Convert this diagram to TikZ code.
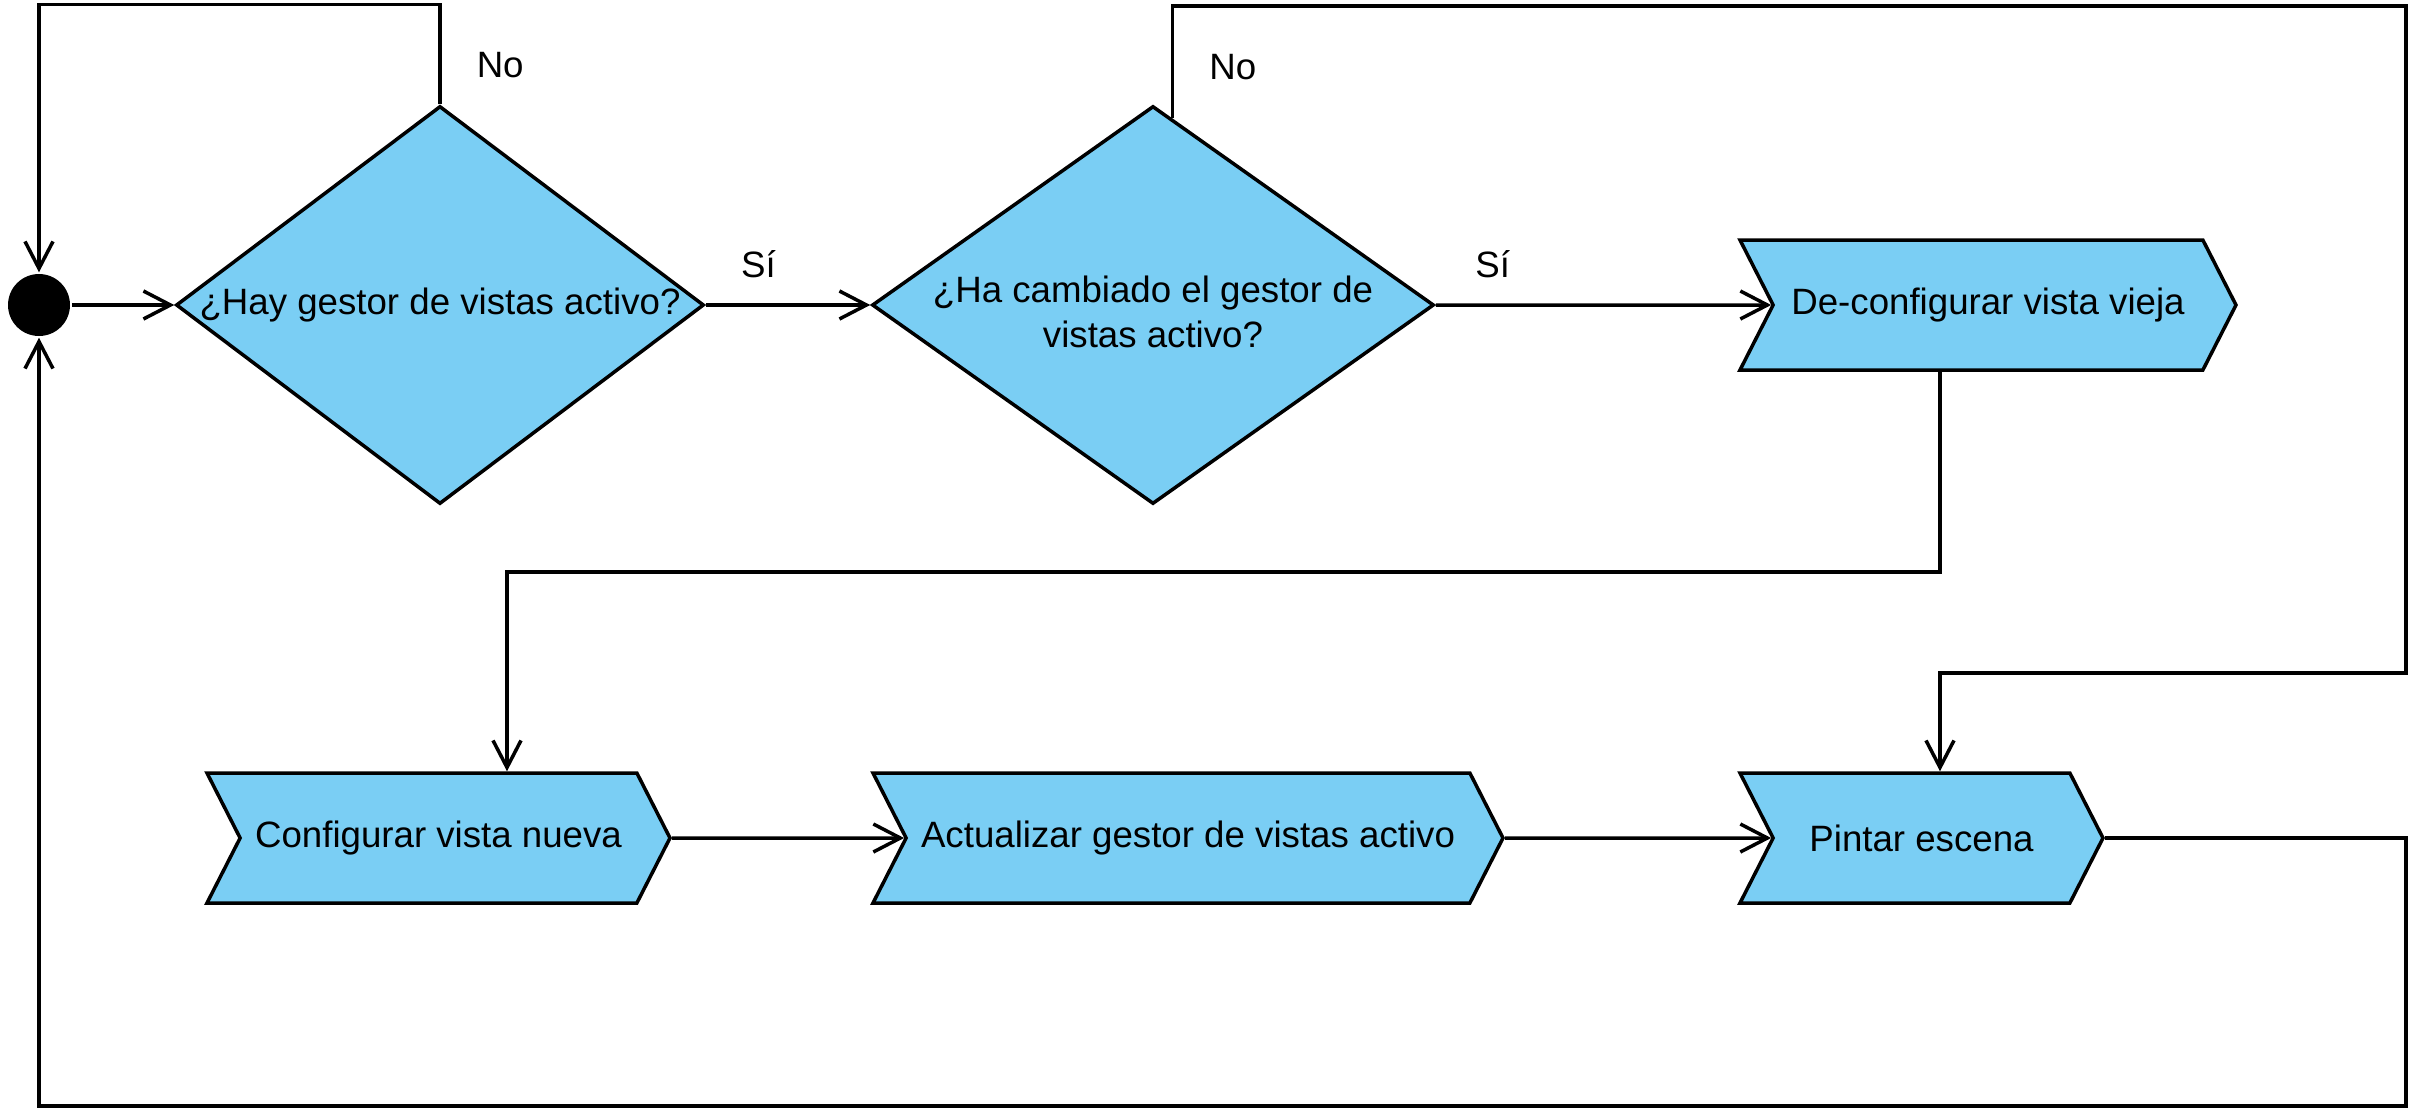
\documentclass[tikz,border=0pt]{standalone}
\usepackage{fontspec}
\setmainfont{Liberation Sans}
\usetikzlibrary{arrows.meta, shapes.geometric, shapes.symbols}
\definecolor{stepblue}{RGB}{122,206,244}

\begin{document}
\begin{tikzpicture}[->,>={Straight Barb[length=8.1pt,width=8.4pt]},
                    line width=1.05pt,x=0.3pt,y=-0.3pt,
                    font=\fontsize{11}{13.5}\selectfont,
                    decision/.style={diamond,draw,fill=stepblue,inner sep=0pt,
                                     minimum height=119.4pt},
                    action/.style={signal,signal from=west,signal to=east,
                                   signal pointer angle=126,draw,fill=stepblue,
                                   minimum height=39pt},
                    answer/.style={inner sep=0pt}]
                \useasboundingbox (0,0) rectangle (2420,1120);
                \node[circle,fill=black,minimum size=18.6pt,inner sep=0pt] (s) at (39,305) {};
                \node[decision,minimum width=158.4pt,
                      label=center:¿Hay gestor de vistas activo?] (hay) at (440,305) {};
                \node[decision,minimum width=168.6pt,
                      label={[align=center,yshift=-2pt]center:¿Ha cambiado el gestor de\\vistas activo?}]
                      (cambio) at (1153,305) {};
                \node[action,minimum width=148.8pt] (deconf) at (1988,305) {De-configurar vista vieja};
                \node[action,minimum width=138.9pt] (config) at (438.5,838) {Configurar vista nueva};
                \node[action,minimum width=189pt] (actual) at (1188,838) {Actualizar gestor de vistas activo};
                \node[action,minimum width=108.9pt] (pintar) at (1921.5,838) {Pintar escena};

                % bends of the long connectors
                \coordinate (rtop) at (2406,6);
                \coordinate (rjoin) at (1940,673);
                \coordinate (dc) at (1940,572);
                \coordinate (lb) at (507,572);
                \coordinate (rbot) at (2406,1106);

                \path
                (s) edge (hay)
                (hay) edge node[answer,above=7.5pt,pos=0.32] {Sí} (cambio)
                (cambio) edge node[answer,above=7.5pt,pos=0.17] {Sí} (deconf)
                (config) edge (actual)
                (actual) edge (pintar)
                ;
                \draw (hay.north) -- node[answer,right=10.5pt,pos=0.39] {No} ++(0,-100) -| (s);
                \draw (cambio.84) -- node[answer,right=10.5pt,pos=0.46] {No} (cambio.84 |- rtop)
                      -- (rtop) |- (rjoin) -- (rjoin |- pintar.north);
                \draw (deconf.south -| dc) -- (dc) -| (lb |- config.north);
                \draw (pintar.east) -| (rbot) -| (s);
            \end{tikzpicture}
\end{document}
